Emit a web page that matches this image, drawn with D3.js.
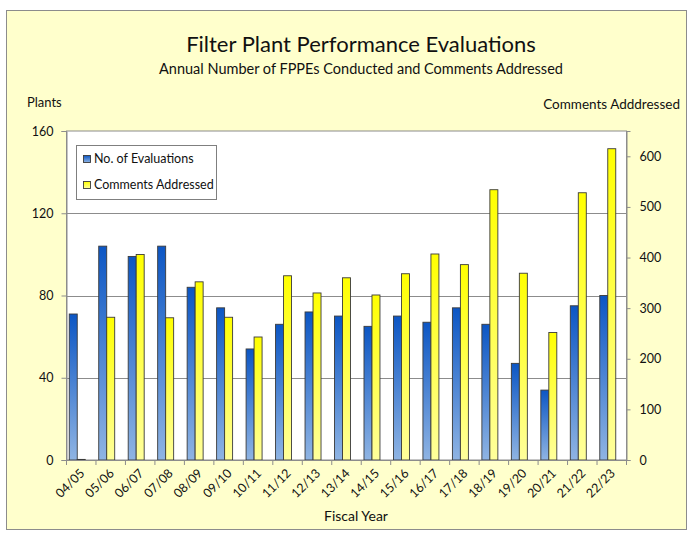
<!DOCTYPE html>
<html>
<head>
<meta charset="utf-8">
<script src="https://d3js.org/d3.v7.min.js"></script>
<style>
  body { margin: 0; background: #fff; }
  text { font-family: Lato, "Open Sans", sans-serif; fill: #111; }
</style>
</head>
<body>
<svg width="688" height="533"></svg>
<script>
// fiscal years along the bottom
var years = ["04/05", "05/06", "06/07", "07/08", "08/09", "09/10", "10/11", "11/12", "12/13", "13/14",
             "14/15", "15/16", "16/17", "17/18", "18/19", "19/20", "20/21", "21/22", "22/23"];
// number of evaluations (left axis, plants)
var evaluations = [71, 104, 99, 104, 84, 74, 54, 66, 72, 70, 65, 70, 67, 74, 66, 47, 34, 75, 80];
// comments addressed (right axis)
var comments = [0, 282, 406, 281, 352, 282, 243, 364, 330, 360, 326, 368, 407, 386, 534, 369, 252, 528, 615];
var leftTicks = [0, 40, 80, 120, 160];
var rightTicks = [0, 100, 200, 300, 400, 500, 600];

var svg = d3.select("svg");
var plot = { left: 66.5, right: 626.5, top: 131, bottom: 460 };

// chart background + frame
svg.append("rect").attr("x", 6.5).attr("y", 10.5).attr("width", 680).attr("height", 519)
    .attr("fill", "#ffffcc").attr("stroke", "#8c8c8c");
svg.append("rect").attr("x", plot.left).attr("y", plot.top)
    .attr("width", plot.right - plot.left).attr("height", plot.bottom - plot.top)
    .attr("fill", "#fff").attr("stroke", "#8c8c8c");

var defs = svg.append("defs");
function grad(id, top, bottom) {
    var g = defs.append("linearGradient").attr("id", id).attr("x1", 0).attr("y1", 0).attr("x2", 0).attr("y2", 1);
    g.append("stop").attr("offset", "0%").attr("stop-color", top);
    g.append("stop").attr("offset", "100%").attr("stop-color", bottom);
}
grad("gBlue", "#0c56c4", "#8fb4e3");
grad("gYellow", "#ffff00", "#ffff9c");

var x = d3.scaleBand().domain(years).range([plot.left, plot.right]);
// three slots per year, the third one is empty like in the original sheet
var slot = d3.scaleBand().domain([0, 1, 2]).range([2.75, x.bandwidth() - 2.75]);
var yL = d3.scaleLinear().domain([0, 160]).range([plot.bottom, plot.top]);
var yR = d3.scaleLinear().domain([0, 650]).range([plot.bottom, plot.top]);

// gridlines
svg.append("g").selectAll("line").data(leftTicks.slice(1, -1)).enter().append("line")
    .attr("x1", plot.left).attr("x2", plot.right)
    .attr("y1", function (d) { return Math.round(yL(d)) + 0.5; })
    .attr("y2", function (d) { return Math.round(yL(d)) + 0.5; })
    .attr("stroke", "#8c8c8c");

// bars (a zero value still shows as a flat line, as in excel)
function bars(vals, scale, s, fill) {
    svg.append("g").selectAll("rect").data(vals).enter().append("rect")
        .attr("x", function (d, i) { return x(years[i]) + slot(s); })
        .attr("y", function (d) { return Math.min(scale(d), plot.bottom - 0.6); })
        .attr("width", slot.bandwidth())
        .attr("height", function (d) { return Math.max(plot.bottom - scale(d), 0.6); })
        .attr("fill", fill)
        .attr("stroke", "#3a3a3a").attr("stroke-width", 0.9);
}
bars(evaluations, yL, 0, "url(#gBlue)");
bars(comments, yR, 1, "url(#gYellow)");

// axes
var axL = svg.append("g").attr("transform", "translate(" + plot.left + ",0)")
    .call(d3.axisLeft(yL).tickValues(leftTicks).tickSize(5).tickPadding(8));
var axR = svg.append("g").attr("transform", "translate(" + plot.right + ",0)")
    .call(d3.axisRight(yR).tickValues(rightTicks).tickSize(4).tickPadding(9));
[axL, axR].forEach(function (a) {
    a.select(".domain").attr("stroke", "#8c8c8c");
    a.selectAll(".tick line").attr("stroke", "#8c8c8c");
    a.selectAll("text").style("font-family", "Lato, sans-serif").style("font-size", "12.5px").attr("fill", "#111");
});

var bounds = years.map(function (d) { return x(d); }).concat([plot.right]);
svg.append("line").attr("x1", plot.left).attr("x2", plot.right)
    .attr("y1", plot.bottom + 0.5).attr("y2", plot.bottom + 0.5).attr("stroke", "#8c8c8c");
svg.append("g").selectAll("line").data(bounds).enter().append("line")
    .attr("x1", function (d) { return d; }).attr("x2", function (d) { return d; })
    .attr("y1", plot.bottom).attr("y2", plot.bottom + 5).attr("stroke", "#8c8c8c");
svg.append("g").selectAll("text").data(years).enter().append("text")
    .attr("transform", function (d) { return "translate(" + (x(d) + x.bandwidth() / 2 + 1) + "," + (plot.bottom + 11) + ") rotate(-45)"; })
    .attr("text-anchor", "end").attr("dy", "0.35em")
    .style("font-size", "12.5px").text(function (d) { return d; });

// titles
svg.append("text").attr("x", 361).attr("y", 52).attr("text-anchor", "middle")
    .style("font-size", "22px").text("Filter Plant Performance Evaluations");
svg.append("text").attr("x", 361).attr("y", 74).attr("text-anchor", "middle")
    .style("font-size", "14.5px").text("Annual Number of FPPEs Conducted and Comments Addressed");
svg.append("text").attr("x", 27).attr("y", 107).style("font-size", "13px").text("Plants");
svg.append("text").attr("x", 680).attr("y", 109).attr("text-anchor", "end")
    .style("font-size", "13.5px").text("Comments Adddressed");
svg.append("text").attr("x", 356).attr("y", 521).attr("text-anchor", "middle")
    .style("font-size", "14px").text("Fiscal Year");

// legend
var lg = svg.append("g");
lg.append("rect").attr("x", 76.5).attr("y", 145.5).attr("width", 140).attr("height", 54)
    .attr("fill", "#fff").attr("stroke", "#7f7f7f");
var items = [["No. of Evaluations", "url(#gBlue)", 159], ["Comments Addressed", "url(#gYellow)", 185]];
items.forEach(function (it) {
    lg.append("rect").attr("x", 83.5).attr("y", it[2] - 3.5).attr("width", 7).attr("height", 7)
        .attr("fill", it[1]).attr("stroke", "#3a3a3a").attr("stroke-width", 0.9);
    lg.append("text").attr("x", 94).attr("y", it[2]).attr("dy", "0.35em")
        .style("font-size", "12.5px").text(it[0]);
});
</script>
</body>
</html>
